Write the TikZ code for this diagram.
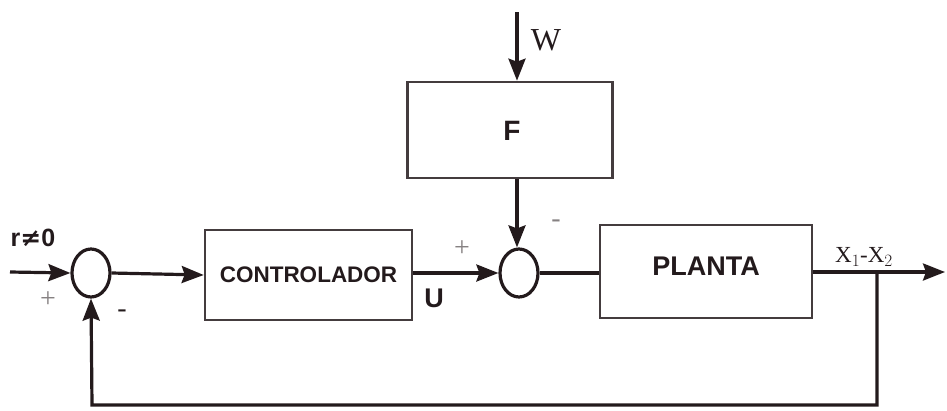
\documentclass[tikz,border=0pt]{standalone}
\usepackage{fontspec}
\setmainfont{Liberation Serif}
\setsansfont{Liberation Sans}
\newfontfamily\symfont{DejaVu Sans}
\usetikzlibrary{arrows.meta,shapes.geometric}
\definecolor{ink}{HTML}{231A1C}
\tikzset{
  sig/.style={draw=ink,line width=3.2pt},
  arr/.style={sig,-{Stealth[length=22pt,width=17pt,inset=3pt]}},
  blockbox/.style={draw=ink!85,line width=2.6pt,rectangle,inner sep=0pt},
  sumj/.style={draw=ink,line width=3.2pt,ellipse,minimum width=38pt,minimum height=48pt,inner sep=0pt},
  sgn/.style={text=ink!55,font=\fontsize{28}{28}\selectfont},
}
\begin{document}
\begin{tikzpicture}[x=1pt,y=-1pt]
\useasboundingbox (0,0) rectangle (947,410);
% nodes
\node[sumj] (s1) at (91,273) {};
\node[sumj] (s2) at (519,273) {};
\node[blockbox,minimum width=207pt,minimum height=90pt] (ctrl) at (308.5,275) {};
\node[font=\sffamily\bfseries\fontsize{22.5}{22}\selectfont,text=ink] (ctrlt) at (308.5,275) {CONTROLADOR};
\node[blockbox,minimum width=205pt,minimum height=96pt] (fbox) at (510,130) {};
\node[font=\sffamily\bfseries\fontsize{28}{28}\selectfont,text=ink] (ft) at (512,131) {F};
\node[blockbox,minimum width=212pt,minimum height=93pt] (plant) at (706,271.5) {};
\node[font=\sffamily\bfseries\fontsize{27}{28}\selectfont,text=ink] (pt) at (706,266) {PLANTA};
\coordinate (in) at (10,272);
\coordinate (w) at (517,12);
\coordinate (out) at (945,272);
\coordinate (br) at (877,272);
\coordinate (bl) at (877,405);
\coordinate (bb) at (92,405);
% connectors
\draw[arr] (in) -- (s1.west);
\draw[arr] (s1.east) -- (ctrl.west);
\draw[arr] (ctrl.east |- s2.west) -- (s2.west);
\draw[arr] (w) -- (w |- fbox.north);
\draw[arr] (w |- fbox.south) -- (w |- s2.north);
\draw[sig] (s2.east) -- (plant.west |- s2.east);
\draw[arr] (plant.east |- out) -- (out);
\draw[arr] (br) -- (bl) -- (bb) -- (s1.south);
% labels
\node[font=\sffamily\bfseries\fontsize{25}{25}\selectfont,text=ink] (rl) at (33,238) {r{\symfont\bfseries ≠}0};
\node[sgn] (p1) at (48,300) {+};
\node[sgn,text=ink] (m1) at (122,314) {-};
\node[sgn] (p2) at (462,249) {+};
\node[sgn] (m2) at (556,224) {-};
\node[font=\sffamily\bfseries\fontsize{27}{28}\selectfont,text=ink] (ul) at (434,298) {U};
\node[font=\fontsize{32}{32}\selectfont,text=ink] (wl) at (546,40) {W};
\node[font=\fontsize{23}{23}\selectfont,text=ink] (xl) at (864,257) {X$_1$-X$_2$};
\end{tikzpicture}
\end{document}
